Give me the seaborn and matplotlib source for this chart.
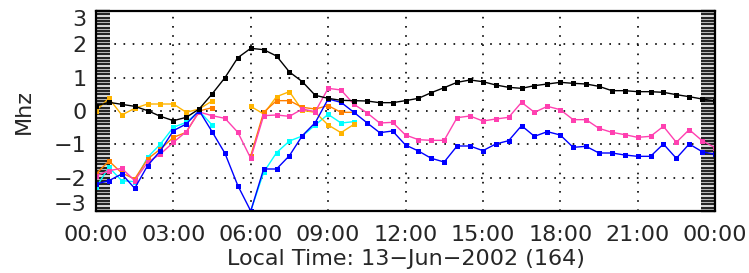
import numpy as np
import pandas as pd
import matplotlib
matplotlib.use('Agg')
import matplotlib.pyplot as plt
import matplotlib.transforms as mtransforms
import seaborn as sns

nan = np.nan

# half-hourly values, 00:00 .. 24:00
hours = np.arange(0, 24.5, 0.5)

black = [0.15, 0.26, 0.2, 0.14, 0.01, -0.16, -0.29, -0.19, 0.06, 0.51,
         1.0, 1.6, 1.88, 1.84, 1.65, 1.17, 0.88, 0.47, 0.38, 0.32,
         0.31, 0.3, 0.25, 0.25, 0.31, 0.38, 0.55, 0.7, 0.86, 0.93,
         0.88, 0.78, 0.71, 0.68, 0.76, 0.81, 0.86, 0.83, 0.81, 0.74,
         0.61, 0.61, 0.58, 0.58, 0.56, 0.49, 0.43, 0.36, 0.3]

pink = [-1.94, -1.79, -1.72, -2.09, -1.54, -1.29, -0.94, -0.62, -0.03, -0.14,
        -0.22, -0.64, -1.42, -0.14, -0.12, -0.16, 0.06, -0.02, 0.68, 0.63,
        0.2, -0.05, -0.36, -0.34, -0.72, -0.86, -0.88, -0.88, -0.2, -0.15,
        -0.3, -0.24, -0.19, 0.26, -0.04, 0.14, 0.04, -0.26, -0.26, -0.52,
        -0.64, -0.71, -0.79, -0.76, -0.46, -0.94, -0.56, -0.89, -1.1]

blue = [-2.19, -2.09, -1.89, -2.32, -1.64, -1.19, -0.59, -0.39, 0.01, -0.62,
        -1.27, -2.24, -3.0, -1.74, -1.74, -1.34, -0.74, -0.35, 0.36, 0.26,
        -0.04, -0.35, -0.65, -0.6, -1.02, -1.2, -1.42, -1.53, -1.05, -1.05,
        -1.19, -0.99, -0.89, -0.44, -0.76, -0.62, -0.72, -1.09, -1.06, -1.26,
        -1.26, -1.32, -1.36, -1.36, -0.99, -1.42, -0.99, -1.22, -1.3]

cyan = [-2.29, -1.69, -2.09, -2.12, -1.39, -0.99, -0.49, -0.34, 0.0, -0.42,
        nan, nan, -3.0, -1.84, -1.25, -0.9, -0.75, -0.42, -0.1, -0.36,
        -0.32] + [nan] * 28

gold = [0.01, 0.38, -0.12, 0.08, 0.21, 0.21, 0.21, -0.04, 0.06, 0.3,
        nan, nan, 0.14, -0.09, 0.43, 0.58, 0.02, -0.04, -0.42, -0.65,
        -0.4] + [nan] * 28

orange = [-1.89, -1.5, -1.86, -2.04, -1.44, -1.14, -0.79, -0.64, 0.0, 0.1,
          nan, nan, -1.34, -0.04, 0.31, 0.31, 0.11, 0.06, 0.16, -0.04,
          -0.04] + [nan] * 28

xlabels = ['00:00', '03:00', '06:00', '09:00', '12:00', '15:00',
           '18:00', '21:00', '00:00']

series = {'cyan': cyan, 'gold': gold, 'orange': orange,
          'pink': pink, 'blue': blue, 'black': black}
palette = {'cyan': '#00ffff', 'gold': '#ffb400', 'orange': '#ff8000',
           'pink': '#ff40b0', 'blue': '#0000ff', 'black': '#000000'}

# long table, a new unit wherever a series has a gap
rows = []
for name, vals in series.items():
    seg = 0
    for h, v in zip(hours, vals):
        if np.isnan(v):
            seg += 1
            continue
        rows.append((h, v, name, f'{name}{seg}'))
df = pd.DataFrame(rows, columns=['hour', 'value', 'series', 'seg'])

sns.set_style('white')
plt.rcParams['font.family'] = ['DejaVu Sans']

fig = plt.figure(figsize=(7.49, 2.73), dpi=100)
ax = fig.add_axes([96 / 749, 1 - 211 / 273, 619 / 749, 200 / 273])

sns.lineplot(data=df, x='hour', y='value', hue='series', units='seg',
             estimator=None, sort=False, hue_order=list(series.keys()),
             palette=palette, marker='s', markersize=3.6,
             markeredgewidth=0, linewidth=1.0, legend=False, ax=ax)

ax.set_xlim(0, 24)
ax.set_ylim(-3, 3)
ax.set_xticks(np.arange(0, 25, 3))
ax.set_xticklabels(xlabels)
ax.set_yticks([-3, -2, -1, 0, 1, 2, 3])
ax.set_yticks(np.arange(-3, 3.01, 0.1), minor=True)

ax.grid(True, which='major', color='black', linestyle=(0, (1, 4.5)),
        linewidth=1.2)
ax.tick_params(axis='x', length=0, labelsize=16, pad=10)
ax.tick_params(axis='y', which='both', direction='in', left=True, right=True,
               length=10, width=1.7, labelsize=16, pad=7)

# end labels sit a little inside the axis, as in the original
ylabs = ax.get_yticklabels()
ylabs[-1].set_transform(ylabs[-1].get_transform() +
                        mtransforms.ScaledTranslation(0, -7 / 100, fig.dpi_scale_trans))
ylabs[0].set_transform(ylabs[0].get_transform() +
                       mtransforms.ScaledTranslation(0, 8 / 100, fig.dpi_scale_trans))

for sp in ax.spines.values():
    sp.set_linewidth(1.6)
    sp.set_color('black')

ax.set_xlabel('Local Time: 13\u2212Jun\u22122002 (164)', fontsize=16, labelpad=3)
ax.set_ylabel('Mhz', fontsize=16, labelpad=14)

fig.savefig('out.png', dpi=100)
